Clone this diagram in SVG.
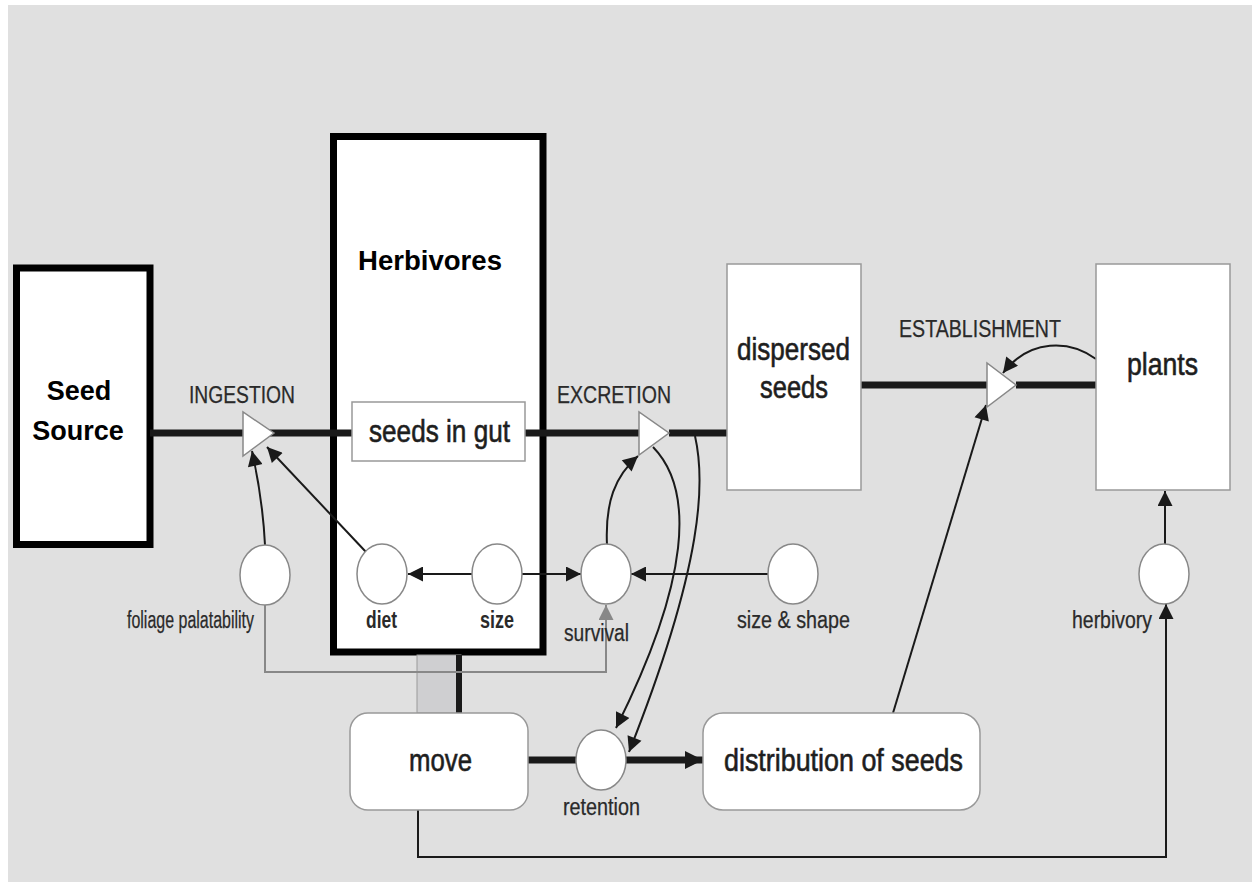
<svg xmlns="http://www.w3.org/2000/svg" width="1252" height="882" viewBox="0 0 1252 882">
<style>
text{font-family:"Liberation Sans",Arial,sans-serif}
.big{font-size:31px;fill:#1e1e1e;stroke:#1e1e1e;stroke-width:0.6}
.bold{font-size:27px;font-weight:bold;fill:#000}
.cap{font-size:23px;fill:#2a2a2a;stroke:#2a2a2a;stroke-width:0.25}
.lbl{font-size:23px;fill:#2a2a2a;stroke:#2a2a2a;stroke-width:0.25}
.lblb{font-size:23px;fill:#2a2a2a;font-weight:bold}
.box{fill:#fff;stroke:#999;stroke-width:1.5}
.heavy{fill:#fff;stroke:#000;stroke-width:7}
.valve{fill:#fff;stroke:#888;stroke-width:1.5}
.aux{fill:#fff;stroke:#888;stroke-width:1.5}
.flow{fill:none;stroke:#1a1a1a;stroke-width:7}
.thin{fill:none;stroke:#1a1a1a;stroke-width:2}
.gray{fill:none;stroke:#888;stroke-width:2}
</style>
<defs>
<marker id="ah" viewBox="0 0 10 10" refX="10" refY="5" markerWidth="17" markerHeight="15" markerUnits="userSpaceOnUse" orient="auto"><path d="M0,0 L10,5 L0,10 z" fill="#1a1a1a"/></marker>
<marker id="ahg" viewBox="0 0 10 10" refX="10" refY="5" markerWidth="17" markerHeight="15" markerUnits="userSpaceOnUse" orient="auto"><path d="M0,0 L10,5 L0,10 z" fill="#888"/></marker>
<marker id="ahb" viewBox="0 0 10 10" refX="10" refY="5" markerWidth="18" markerHeight="20" markerUnits="userSpaceOnUse" orient="auto"><path d="M0,0 L10,5 L0,10 z" fill="#1a1a1a"/></marker>
</defs>
<rect x="8" y="5" width="1244" height="877" fill="#e0e0e0"/>

<g id="herbivores">
<rect class="heavy" x="333.5" y="136.5" width="209.5" height="515.5"/>
<text class="bold" x="358" y="270" textLength="144" lengthAdjust="spacingAndGlyphs">Herbivores</text>
</g>
<g id="seed-source">
<rect class="heavy" x="16.5" y="268" width="133.5" height="276.5"/>
<text class="bold" x="79" y="400" text-anchor="middle">Seed</text>
<text class="bold" x="78" y="440" text-anchor="middle">Source</text>
</g>

<g id="connectors">
<rect x="417" y="655" width="44" height="58" fill="#cfcfd1" stroke="#999" stroke-width="1"/>
<line x1="459" y1="655" x2="459" y2="713" stroke="#1a1a1a" stroke-width="6"/>
<path class="flow" d="M150,433 H640"/>
<path class="flow" d="M669,433 H727"/>
<path class="flow" d="M861,385 H987"/>
<path class="flow" d="M1016,385 H1096"/>
<path class="flow" d="M528,760 H576" stroke-width="6"/>
<path class="flow" d="M626,760 H703" stroke-width="6" marker-end="url(#ahb)"/>
<path class="thin" d="M265,545 C263,505 258,478 252,451" marker-end="url(#ah)"/>
<path class="thin" d="M366,552 L267,447" marker-end="url(#ah)"/>
<path class="thin" d="M472,574 H408" marker-end="url(#ah)"/>
<path class="thin" d="M522,574 H581" marker-end="url(#ah)"/>
<path class="thin" d="M768,574 H631" marker-end="url(#ah)"/>
<path class="thin" d="M607,545 C605,502 615,476 638,456" marker-end="url(#ah)"/>
<path class="thin" d="M653,447 C695,490 690,580 616,728" marker-end="url(#ah)"/>
<path class="thin" d="M695,436 C705,480 705,560 629,752" marker-end="url(#ah)"/>
<path class="gray" d="M265,605 V672 H606 V605" marker-end="url(#ahg)"/>
<path class="thin" d="M1096,359 C1070,340 1030,338 1003,373" marker-end="url(#ah)"/>
<path class="thin" d="M893,713 L986,405" marker-end="url(#ah)"/>
<path class="thin" d="M1165,544 V491" marker-end="url(#ah)"/>
<path class="thin" d="M418,810 V857 H1166 V604" marker-end="url(#ah)"/>
</g>

<g id="ingestion">
<polygon class="valve" points="243,412 243,456 274,433"/>
<text class="cap" x="189" y="403" textLength="106" lengthAdjust="spacingAndGlyphs">INGESTION</text>
</g>
<g id="seeds-in-gut">
<rect class="box" x="352" y="402" width="173" height="59"/>
<text class="big" x="369" y="442" textLength="141" lengthAdjust="spacingAndGlyphs">seeds in gut</text>
</g>
<g id="excretion">
<polygon class="valve" points="639,412 639,455 669,433"/>
<text class="cap" x="557" y="403" textLength="114" lengthAdjust="spacingAndGlyphs">EXCRETION</text>
</g>
<g id="dispersed-seeds">
<rect class="box" x="727" y="264" width="134" height="226"/>
<text class="big" x="737" y="360" textLength="113" lengthAdjust="spacingAndGlyphs">dispersed</text>
<text class="big" x="760" y="398" textLength="68" lengthAdjust="spacingAndGlyphs">seeds</text>
</g>
<g id="establishment">
<polygon class="valve" points="987,363 987,407 1016,385"/>
<text class="cap" x="899" y="337" textLength="162" lengthAdjust="spacingAndGlyphs">ESTABLISHMENT</text>
</g>
<g id="plants">
<rect class="box" x="1096" y="264" width="134" height="226"/>
<text class="big" x="1127" y="375" textLength="71" lengthAdjust="spacingAndGlyphs">plants</text>
</g>
<g id="foliage-palatability">
<ellipse class="aux" cx="265" cy="575" rx="25" ry="30"/>
<text class="lbl" x="127" y="628" textLength="127" lengthAdjust="spacingAndGlyphs">foliage palatability</text>
</g>
<g id="diet">
<ellipse class="aux" cx="382" cy="574" rx="25" ry="30"/>
<text class="lblb" x="366" y="628" textLength="31" lengthAdjust="spacingAndGlyphs">diet</text>
</g>
<g id="size">
<ellipse class="aux" cx="497" cy="574" rx="25" ry="30"/>
<text class="lblb" x="480" y="628" textLength="34" lengthAdjust="spacingAndGlyphs">size</text>
</g>
<g id="survival">
<ellipse class="aux" cx="606" cy="574" rx="25" ry="30"/>
<text class="lbl" x="564" y="641" textLength="65" lengthAdjust="spacingAndGlyphs">survival</text>
</g>
<g id="size-shape">
<ellipse class="aux" cx="793" cy="574" rx="25" ry="30"/>
<text class="lbl" x="737" y="628" textLength="113" lengthAdjust="spacingAndGlyphs">size &amp; shape</text>
</g>
<g id="herbivory">
<ellipse class="aux" cx="1164" cy="574" rx="25" ry="30"/>
<text class="lbl" x="1072" y="628" textLength="80" lengthAdjust="spacingAndGlyphs">herbivory</text>
</g>
<g id="move">
<rect class="box" x="350" y="713" width="178" height="97" rx="18"/>
<text class="big" x="409" y="771" textLength="63" lengthAdjust="spacingAndGlyphs">move</text>
</g>
<g id="retention">
<ellipse class="aux" cx="601" cy="760" rx="25" ry="30"/>
<text class="lbl" x="563" y="815" textLength="77" lengthAdjust="spacingAndGlyphs">retention</text>
</g>
<g id="distribution-of-seeds">
<rect class="box" x="703" y="713" width="277" height="97" rx="20"/>
<text class="big" x="724" y="771" textLength="239" lengthAdjust="spacingAndGlyphs">distribution of seeds</text>
</g>
</svg>
